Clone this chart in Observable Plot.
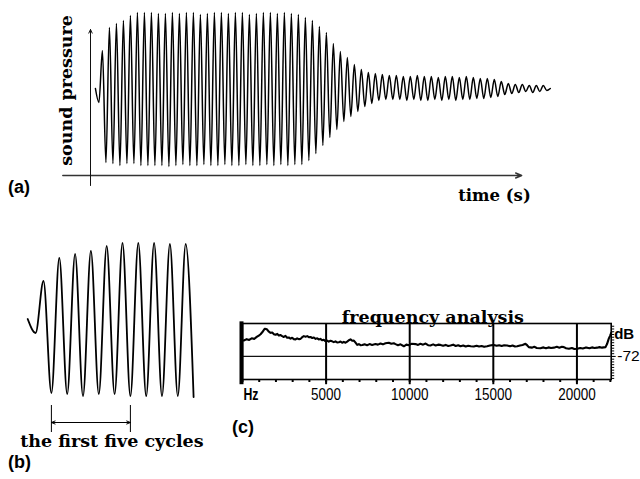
<!DOCTYPE html>
<html>
<head>
<meta charset="utf-8">
<script src="https://cdn.jsdelivr.net/npm/d3@7"></script>
<script src="https://cdn.jsdelivr.net/npm/@observablehq/plot@0.6"></script>
<style>
  html, body { margin: 0; padding: 0; background: white; }
  #fig { position: relative; width: 640px; height: 479px; background: white; overflow: hidden; }
  #fig svg { position: absolute; left: 0; top: 0; }
  .panel { position: absolute; font: bold 18px "Liberation Sans", Arial, sans-serif; line-height: 1; color: #000; }
</style>
</head>
<body>
<div id="fig"></div>
<script>
// ---------- DATA ----------
// (a)/(b) sound pressure waveform: extremes of each half cycle (arbitrary pressure units, rest = 0)
const leadIn = [0, -14];                       // rest level, then the small initial dip
const peakHigh = [38, 61, 65, 68, 73, 76, 76, 76, 75, 75,
  76, 75, 76, 76, 74, 75, 76, 76, 75, 76, 76, 74, 75, 76, 76, 75, 76, 75, 74,
  71, 68, 62, 56, 45, 37, 31, 24, 19, 16, 15, 14,
  13, 13, 12, 12, 13, 12, 12, 11, 12, 12, 11, 12, 11, 10, 10, 9,
  7, 5, 4, 4, 3, 3, 3];
const peakLow = [-74, -75, -77, -75, -75, -77, -77, -77, -77, -78,
  -77, -76, -77, -77, -76, -77, -77, -76, -77, -77, -76, -77, -77, -76, -77, -76, -77, -76, -76,
  -72, -65, -57, -49, -41, -33, -28, -23, -18, -15, -12, -11,
  -11, -11, -12, -11, -12, -12, -11, -12, -11, -12, -11, -11, -10, -10, -9, -8,
  -6, -5, -4, -3, -4, -3, -2];
const tailOut = [0];
const onsetMs = 1.6;          // time of the first sample (ms)
const halfPeriodMs = 1.136;   // half a cycle of the 440 Hz tone (ms)
const firstFiveCycles = [3, 13]; // extremum indices bounding "the first five cycles"
const cyclesShownInB = 22;       // number of extrema shown magnified in (b)

// axes of (a)
const timeAxis = {from: -9, to: 140, level: -87};
const pressureAxis = {at: 0, from: -97, to: 59};

// (c) spectrum
const specFreq = [80, 250, 400, 550, 700, 850, 975, 1080, 1180, 1260, 1335, 1400, 1475, 1560, 1675, 1780, 1880, 1975,
  2080, 2180, 2280, 2370, 2470, 2570, 2670, 2770, 2870, 2970, 3070, 3170, 3270, 3370, 3470, 3570, 3670, 3770, 3870, 3970,
  4070, 4170, 4270, 4370, 4470, 4560, 4660, 4760, 4860, 4960, 5060, 5160, 5260, 5360, 5460, 5560, 5660, 5760, 5860, 5960,
  6060, 6160, 6260, 6360, 6460, 6560, 6660, 6760, 6860, 6960, 7060, 7160, 7300, 7450, 7600, 7750, 7950, 8100, 8250, 8400,
  8550, 8750, 8900, 9050, 9150, 9300, 9450, 9650, 9800, 9950, 10100, 10350, 10500, 10640, 10800, 10950, 11100, 11240,
  11400, 11550, 11700, 11840, 12000, 12150, 12300, 12440, 12600, 12750, 12900, 13040, 13200, 13350, 13500, 13650, 13830,
  14000, 14150, 14300, 14450, 14630, 14800, 15030, 15200, 15350, 15500, 15650, 15830, 16000, 16150, 16300, 16430, 16600,
  16750, 16920, 17020, 17120, 17300, 17450, 17600, 17820, 18000, 18150, 18300, 18450, 18620, 18800, 18950, 19100, 19220,
  19350, 19520, 19700, 19850, 20020, 20200, 20350, 20500, 20610, 20750, 20900, 21050, 21210, 21350, 21500, 21710, 21800,
  21900, 21980, 22050];
const specLevel = [-66.2, -65.7, -66.0, -65.4, -65.6, -64.9, -64.4, -63.9, -63.2, -62.5, -61.9, -62.0, -62.2, -62.9, -63.4, -63.3, -63.9, -64.1,
  -63.8, -64.4, -64.2, -64.6, -64.9, -64.5, -65.2, -65.1, -65.5, -65.2, -65.7, -65.8, -65.4, -65.7, -65.6, -65.0, -64.6, -64.8, -64.6, -65.0,
  -64.9, -65.3, -65.1, -65.6, -65.4, -65.8, -65.6, -66.1, -65.9, -66.5, -66.2, -66.6, -66.3, -66.5, -66.8, -66.5, -66.9, -66.8, -66.6, -67.0,
  -66.7, -67.0, -66.6, -66.1, -65.8, -66.3, -66.2, -67.0, -67.8, -67.5, -67.9, -67.8, -67.6, -67.9, -67.5, -67.8, -67.5, -67.7, -67.3, -67.6,
  -67.2, -67.0, -67.4, -67.2, -67.5, -67.9, -67.6, -68.3, -67.7, -67.9, -67.4, -67.5, -67.8, -67.4, -67.7, -67.3, -67.9, -68.0,
  -67.6, -68.0, -67.7, -67.8, -68.1, -67.8, -68.2, -68.0, -67.7, -68.2, -67.9, -68.3, -68.0, -68.4, -68.1, -68.3, -68.4,
  -68.1, -68.4, -68.2, -68.5, -68.3, -68.0, -67.8, -68.1, -67.9, -68.2, -67.9, -68.0, -68.3, -68.0, -68.4, -68.3, -68.0,
  -67.8, -67.4, -67.9, -68.6, -68.8, -68.5, -68.9, -69.0, -68.7, -69.0, -68.7, -68.9, -68.8, -68.5, -68.8, -68.5, -68.6,
  -69.0, -69.2, -68.9, -69.3, -69.2, -68.9, -69.1, -68.8, -68.8, -69.0, -68.7, -68.9, -68.8, -68.6, -68.8, -68.6, -67.5,
  -65.6, -64.5, -63.4];
const freqDomain = [0, 22050];
const dbDomain = [-80.4, -60];
const freqGrid = [5000, 10000, 15000, 20000];
const freqTickLabels = ["5000", "10000", "15000", "20000"];
const freqUnitLabel = "Hz";
const freqMinorTicks = d3.range(0, 22001, 1000);
const dbMinorTicks = d3.range(-80, -60, 1);
const dbLabelled = [-72];

// ---------- BUILD ----------
const extremes = [...leadIn, ...peakHigh.flatMap((h, k) => [h, peakLow[k]]), ...tailOut];
const signal = extremes.map((p, i) => ({t: onsetMs + i * halfPeriodMs, p}));
const signalB = signal.slice(0, cyclesShownInB);
const spectrum = specFreq.map((f, i) => ({f, db: specLevel[i]}));

const serif = "DejaVu Serif, Liberation Serif, serif";
const sans = "Liberation Sans, Arial, sans-serif";
const fig = document.getElementById("fig");
const common = {width: 640, height: 479, style: {background: "transparent", overflow: "visible"}};

// (a) full waveform
const plotA = Plot.plot({
  ...common,
  x: {domain: [0, 150], range: [90, 552], axis: null},
  y: {domain: [-100, 100], range: [188, -12], axis: null},
  marks: [
    Plot.arrow([timeAxis], {x1: "from", x2: "to", y1: "level", y2: "level", stroke: "#333", strokeWidth: 1.4, headLength: 7, headAngle: 45}),
    Plot.arrow([pressureAxis], {x1: "at", x2: "at", y1: "from", y2: "to", stroke: "#111", strokeWidth: 1, headLength: 6, headAngle: 50}),
    Plot.line(signal, {x: "t", y: "p", curve: "monotone-x", stroke: "#000", strokeWidth: 1.5}),
    Plot.text(["sound pressure"], {x: pressureAxis.at, y: 0, dx: -24, dy: 2, rotate: -90, text: d => d,
      fontFamily: serif, fontWeight: "bold", fontSize: 17.5}),
    Plot.text(["time (s)"], {x: timeAxis.to, y: timeAxis.level, dx: 9, dy: 20, textAnchor: "end", text: d => d,
      fontFamily: serif, fontWeight: "bold", fontSize: 16.5})
  ]
});

// (b) first cycles magnified
const tA = signal[firstFiveCycles[0]].t, tB = signal[firstFiveCycles[1]].t, tMid = (tA + tB) / 2;
const plotB = Plot.plot({
  ...common,
  x: {domain: [0, 30], range: [16.07, 224.7], axis: null},
  y: {domain: [-100, 100], range: [418.5, 218.5], axis: null},
  marks: [
    Plot.line(signalB, {x: "t", y: "p", curve: "monotone-x", stroke: "#000", strokeWidth: 1.8}),
    Plot.ruleX([tA, tB], {y1: -86.5, y2: -113.5, stroke: "#000", strokeWidth: 1}),
    Plot.arrow([tA, tB], {x1: () => tMid, x2: d => d, y1: -103.5, y2: -103.5, stroke: "#000", strokeWidth: 1,
      headLength: 6, headAngle: 45}),
    Plot.text(["the first five cycles"], {x: tMid, y: -103.5, dx: 21, dy: 19, text: d => d,
      fontFamily: serif, fontWeight: "bold", fontSize: 17.5})
  ]
});

// (c) frequency analysis
const plotC = Plot.plot({
  ...common,
  marginLeft: 242, marginRight: 29.3, marginTop: 323, marginBottom: 100,
  x: {domain: freqDomain, axis: null},
  y: {domain: dbDomain, axis: null},
  marks: [
    Plot.ruleY(dbLabelled, {stroke: "#111", strokeWidth: 1.3}),
    Plot.ruleX(freqGrid, {y1: dbDomain[1], y2: -82.3, stroke: "#000", strokeWidth: 2}),
    Plot.frame({stroke: "#000", strokeWidth: 1.6}),
    Plot.axisX({anchor: "bottom", ticks: freqMinorTicks, tickSize: 3, tickFormat: () => "", strokeWidth: 2, label: null}),
    Plot.axisY({anchor: "right", ticks: dbMinorTicks, tickSize: 2.5, tickFormat: () => "", strokeWidth: 1, label: null}),
    Plot.axisY({anchor: "right", ticks: dbLabelled, tickSize: 4, tickPadding: 2, tickFormat: d => String(d),
      fontSize: 15, fontFamily: sans, label: null}),
    Plot.ruleX([0], {y1: -82.3, y2: dbDomain[1] + 0.6, stroke: "#000", strokeWidth: 4, dx: -1}),
    Plot.line(spectrum, {x: "f", y: "db", stroke: "#000", strokeWidth: 2.1}),
    Plot.text(freqGrid, {x: d => d, text: (d, i) => freqTickLabels[i], frameAnchor: "bottom", dy: 20,
      fontFamily: sans, fontSize: 16}),
    Plot.text([freqUnitLabel], {x: freqDomain[0], text: d => d, frameAnchor: "bottom", dy: 20, dx: 1, textAnchor: "start",
      fontFamily: sans, fontWeight: "bold", fontSize: 16}),
    Plot.text(["dB"], {frameAnchor: "top-right", dx: 3, dy: 4.5, textAnchor: "start", text: d => d,
      fontFamily: sans, fontWeight: "bold", fontSize: 15}),
    Plot.text(["frequency analysis"], {frameAnchor: "top", dx: 6, dy: -1, lineAnchor: "bottom", text: d => d,
      fontFamily: serif, fontWeight: "bold", fontSize: 17.5})
  ]
});

fig.append(plotA, plotB, plotC);

// condense the tick labels of (c) like the original narrow face
for (const t of plotC.querySelectorAll("text")) {
  const s = t.textContent;
  if (/^[-\d]+$/.test(s) || s === "Hz") {
    t.setAttribute("textLength", (s.length * 7.5).toFixed(1));
    t.setAttribute("lengthAdjust", "spacingAndGlyphs");
  }
}

// panel letters
for (const [txt, left, top] of [["(a)", 8, 178], ["(b)", 8, 453], ["(c)", 232, 418]]) {
  const d = document.createElement("div");
  d.className = "panel";
  d.textContent = txt;
  d.style.left = left + "px";
  d.style.top = top + "px";
  fig.append(d);
}
</script>
</body>
</html>
